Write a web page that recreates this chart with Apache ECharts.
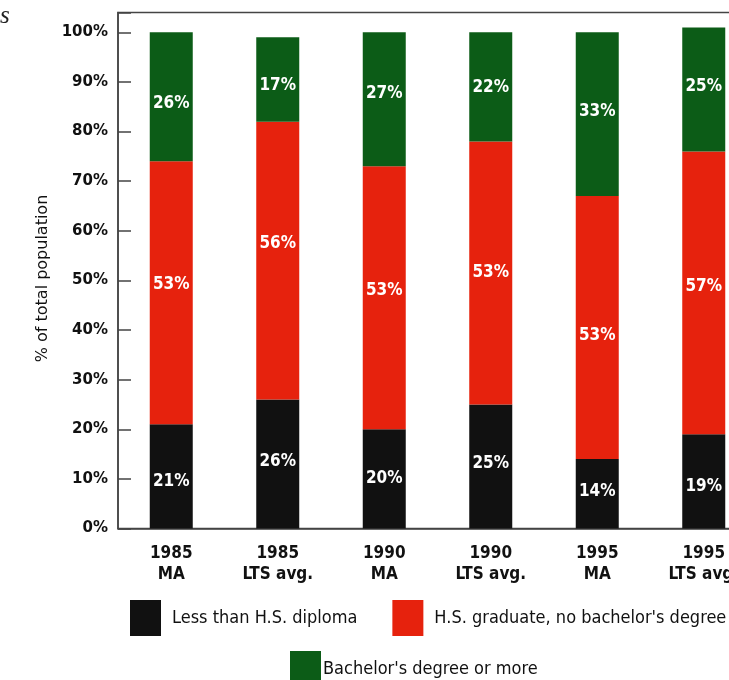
<!DOCTYPE html>
<html>
<head>
<meta charset="utf-8">
<script src="https://cdn.jsdelivr.net/npm/echarts@6/dist/echarts.min.js"></script>
<style>
  html, body { margin: 0; padding: 0; background: #fff; overflow: hidden; }
  /* the printed chart runs past the right edge of the page, so the canvas is wider than the window */
  #chart { width: 757px; height: 680px; }
</style>
</head>
<body>
<div id="chart"></div>
<script>
// categories and values (percent of total population)
const categories = ["1985\nMA", "1985\nLTS avg.", "1990\nMA", "1990\nLTS avg.", "1995\nMA", "1995\nLTS avg."];
const lessThanHS = [21, 26, 20, 25, 14, 19];
const hsGraduate = [53, 56, 53, 53, 53, 57];
const bachelors = [26, 17, 27, 22, 33, 25];
const seriesNames = ["Less than H.S. diploma", "H.S. graduate, no bachelor's degree", "Bachelor's degree or more"];

// label nudges (px, positive = down), as printed in the original
const blackLabelShift = [5, -2, 0, -3, -2, 5];
const redLabelShift = [-8, -17, -7, 0, 8, -6];
const greenLabelShift = [7, 6, -6, 1, -3, -3];

const chart = echarts.init(document.getElementById("chart"));

const barLabel = {
  show: true,
  position: "inside",
  color: "#fff",
  fontFamily: "DejaVu Sans Condensed",
  fontWeight: "bold",
  fontSize: 17,
  formatter: (p) => p.value + "%",
};

const withShift = (values, shifts) =>
  values.map((v, i) => ({ value: v, label: { offset: [0, shifts[i]] } }));

const legendText = {
  fontFamily: "DejaVu Sans Condensed",
  fontSize: 18,
  color: "#111",
};

const option = {
  backgroundColor: "#fff",
  animation: false,
  title: {
    text: "s",
    left: 0,
    top: 4,
    padding: 0,
    textStyle: {
      fontFamily: "Liberation Serif",
      fontStyle: "italic",
      fontWeight: "normal",
      fontSize: 25,
      color: "#222",
    },
  },
  grid: {
    left: 118,
    right: 0,
    top: 12.5,
    bottom: 151.5,
    show: true,
    borderColor: "#444",
    borderWidth: 1.5,
  },
  legend: [
    {
      data: seriesNames.slice(0, 2),
      left: 125,
      top: 595,
      width: 900,
      itemWidth: 31,
      itemHeight: 36,
      itemGap: 35,
      icon: "rect",
      selectedMode: false,
      textStyle: Object.assign({ padding: [0, 0, 0, 6] }, legendText),
    },
    {
      data: seriesNames.slice(2),
      left: 285,
      top: 646,
      width: 900,
      itemWidth: 31,
      itemHeight: 36,
      icon: "rect",
      selectedMode: false,
      textStyle: Object.assign({ padding: [0, 0, 0, -3] }, legendText),
    },
  ],
  xAxis: {
    type: "category",
    data: categories,
    axisLine: { lineStyle: { color: "#444", width: 1.5 } },
    axisTick: { inside: true, length: 10, lineStyle: { color: "#444", width: 1.5 } },
    axisLabel: {
      margin: 15,
      color: "#111",
      fontFamily: "DejaVu Sans Condensed",
      fontWeight: "bold",
      fontSize: 17,
      lineHeight: 21,
    },
  },
  yAxis: {
    type: "value",
    min: 0,
    max: 104,
    interval: 10,
    name: "% of total population",
    nameLocation: "middle",
    nameGap: 61,
    nameTextStyle: {
      fontFamily: "DejaVu Sans",
      fontSize: 16,
      color: "#111",
      padding: [0, 16, 0, 0],
    },
    axisLine: { show: true, lineStyle: { color: "#444", width: 1.5 } },
    axisTick: { show: true, inside: true, length: 13, lineStyle: { color: "#444", width: 1.5 } },
    splitLine: { show: false },
    axisLabel: {
      margin: 10,
      color: "#111",
      fontFamily: "DejaVu Sans",
      fontWeight: "bold",
      fontSize: 15,
      formatter: (v) => (v > 100 ? "" : v + "%"),
    },
  },
  series: [
    {
      name: seriesNames[0],
      type: "bar",
      stack: "total",
      barWidth: 43,
      itemStyle: { color: "#111111" },
      label: barLabel,
      data: withShift(lessThanHS, blackLabelShift),
    },
    {
      name: seriesNames[1],
      type: "bar",
      stack: "total",
      barWidth: 43,
      itemStyle: { color: "#e6220d" },
      label: barLabel,
      data: withShift(hsGraduate, redLabelShift),
    },
    {
      name: seriesNames[2],
      type: "bar",
      stack: "total",
      barWidth: 43,
      itemStyle: { color: "#0c5c17" },
      label: barLabel,
      data: withShift(bachelors, greenLabelShift),
    },
  ],
};

chart.setOption(option);
</script>
</body>
</html>
